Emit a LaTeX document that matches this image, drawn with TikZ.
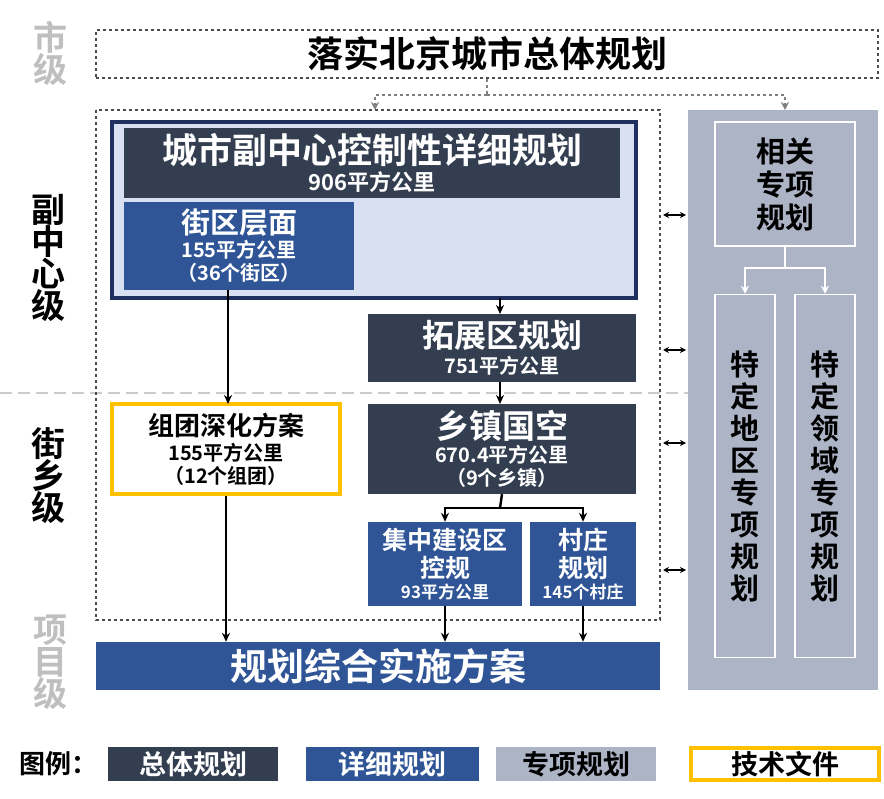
\documentclass[tikz,border=0pt]{standalone}
\usepackage{fontspec}
\setmainfont{Noto Sans CJK SC}[BoldFont={* Bold}]
\usetikzlibrary{arrows.meta}
\definecolor{dk}{HTML}{333F50}
\definecolor{bl}{HTML}{2F5597}
\definecolor{gr}{HTML}{ADB4C6}
\definecolor{lt}{HTML}{D9E0F1}
\definecolor{og}{HTML}{FFC000}
\definecolor{nv}{HTML}{1F2F5F}
\newcommand{\fs}[1]{\fontsize{#1}{#1}\selectfont}
\tikzset{
 box/.style={inner sep=0pt,align=center,text=white,font=\bfseries},
 dkbox/.style={box,fill=dk},
 blbox/.style={box,fill=bl},
 grbox/.style={box,fill=gr,draw=white,line width=1.5pt,text=black},
 arr/.style={-{Stealth[length=9pt,width=8pt]},line width=2.4pt,black},
 darr/.style={{Stealth[length=6pt,width=6pt]}-{Stealth[length=6pt,width=6pt]},line width=1.6pt,black},
 warr/.style={-{Stealth[length=8pt,width=8pt]},line width=1.5pt,white},
 lvl/.style={font=\bfseries\fs{34},align=center},
}
\begin{document}
\begin{tikzpicture}[x=1pt,y=-1pt]
\useasboundingbox (0,0) rectangle (884,799);
% level labels
\node[lvl,text=gray!50] (l1) at (50,53) {市\\[-2pt]级};
\node[lvl] (l2) at (48,258) {副\\[-2pt]中\\[-2pt]心\\[-2pt]级};
\node[lvl] (l3) at (48,476) {街\\[-2pt]乡\\[-2pt]级};
\node[lvl,text=gray!50] (l4) at (50,662) {项\\[-2pt]目\\[-2pt]级};
% separator
\draw[gray!40,line width=2.5pt,dash pattern=on 12pt off 6pt] (0,393) -- (688,393);
% top box
\node[draw=black!70,dashed,line width=1.8pt,minimum width=782pt,minimum height=48pt,font=\bfseries\fs{36}] (top) at (487,54) {落实北京城市总体规划};
% right panel
\fill[gr] (688,110) rectangle (878,690);
\node[grbox,minimum width=140pt,minimum height=124pt,font=\bfseries\fs{29}] (xg) at (785,184) {相关\\[4pt]专项\\[4pt]规划};
\node[grbox,minimum width=60pt,minimum height=363pt,font=\bfseries\fs{29}] (td) at (745,476) {特\\[3pt]定\\[3pt]地\\[3pt]区\\[3pt]专\\[3pt]项\\[3pt]规\\[3pt]划};
\node[grbox,minimum width=60pt,minimum height=363pt,font=\bfseries\fs{29}] (tl) at (825,476) {特\\[3pt]定\\[3pt]领\\[3pt]域\\[3pt]专\\[3pt]项\\[3pt]规\\[3pt]划};
\coordinate (sp) at (785,268);
\draw[white,line width=1.5pt] (xg.south) -- (sp);
\draw[warr] (sp) -| (td.north);
\draw[warr] (sp) -| (tl.north);
% dashed box
\draw[black!70,dashed,line width=1.8pt] (96,110) rectangle (660,620);
% top arrows
\coordinate (tj) at (487,95);
\draw[gray,line width=2.2pt,dashed] (top.south) -- (tj);
\draw[gray,line width=2.2pt,dashed,-{Stealth[length=8pt,width=8pt]}] (tj) -| (375,110);
\draw[gray,line width=2.2pt,dashed,-{Stealth[length=8pt,width=8pt]}] (tj) -| (785,110);
% big box
\node[draw=nv,line width=3.5pt,fill=lt,minimum width=524pt,minimum height=176pt,inner sep=0pt] (big) at (374,210) {};
\node[dkbox,minimum width=496pt,minimum height=70pt] (cs) at (372,163) {\fs{35}城市副中心控制性详细规划\\[4pt]\fs{22}906平方公里};
\node[dkbox,fill=bl,minimum width=230pt,minimum height=88pt] (jq) at (239,246) {\fs{29}街区层面\\[3pt]\fs{20}155平方公里\\[3pt]\fs{20}（36个街区）};
\node[dkbox,minimum width=268pt,minimum height=68pt] (tz) at (502,348) {\fs{32}拓展区规划\\[4pt]\fs{20}751平方公里};
\node[draw=og,line width=3.5pt,fill=white,minimum width=228pt,minimum height=90pt,inner sep=0pt,align=center,font=\bfseries] (zt) at (226,449) {\fs{26}组团深化方案\\[4pt]\fs{20}155平方公里\\[3pt]\fs{20}（12个组团）};
\node[dkbox,minimum width=268pt,minimum height=90pt] (xz) at (502,449) {\fs{33}乡镇国空\\[3pt]\fs{20}670.4平方公里\\[3pt]\fs{20}（9个乡镇）};
\node[blbox,minimum width=154pt,minimum height=84pt] (jz) at (445,564) {\fs{25}集中建设区\\[3pt]\fs{25}控规\\[3pt]\fs{17}93平方公里};
\node[blbox,minimum width=106pt,minimum height=84pt] (cz) at (583,564) {\fs{25}村庄\\[3pt]\fs{25}规划\\[3pt]\fs{17}145个村庄};
\node[blbox,minimum width=564pt,minimum height=48pt,font=\bfseries\fs{37}] (ss) at (378,666) {规划综合实施方案};
% arrows
\draw[arr] (500,298) -- (500,314);
\draw[arr] (500,382) -- (500,404);
\coordinate (xs) at (500,508);
\draw[line width=2.4pt] (xz.south) -- (xs);
\draw[arr] (xs) -| (jz.north);
\draw[arr] (xs) -| (cz.north);
\draw[arr] (jq.south -| 228,0) -- (228,404);
\draw[arr] (zt.south) -- (zt.south |- ss.north);
\draw[arr] (jz.south) -- (jz.south |- ss.north);
\draw[arr] (cz.south) -- (cz.south |- ss.north);
\foreach \y in {215,350,443,570} \draw[darr] (663,\y) -- (686,\y);
% legend
\node[font=\bfseries\fs{26},anchor=west] (lg) at (16,764) {图例：};
\node[dkbox,minimum width=170pt,minimum height=34pt,font=\bfseries\fs{27}] (lg1) at (193,764) {总体规划};
\node[blbox,minimum width=173pt,minimum height=34pt,font=\bfseries\fs{27}] (lg2) at (392,764) {详细规划};
\node[box,fill=gr,text=black,minimum width=160pt,minimum height=34pt,font=\bfseries\fs{27}] (lg3) at (576,764) {专项规划};
\node[draw=og,line width=3.5pt,minimum width=188pt,minimum height=32pt,inner sep=0pt,font=\bfseries\fs{27}] (lg4) at (785,764) {技术文件};
\end{tikzpicture}
\end{document}
